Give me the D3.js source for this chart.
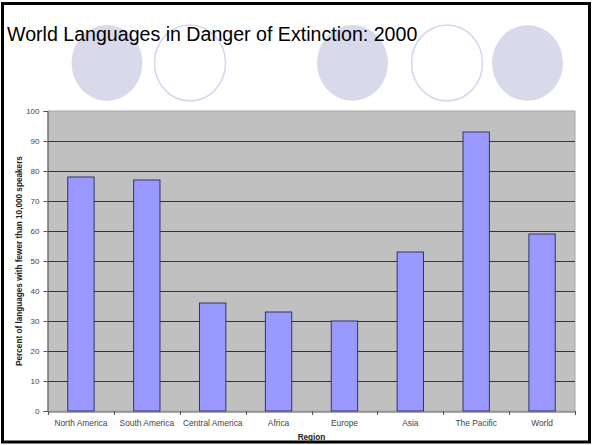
<!DOCTYPE html>
<html>
<head>
<meta charset="utf-8">
<script src="https://cdn.jsdelivr.net/npm/d3@7"></script>
<style>
  html, body { margin: 0; padding: 0; background: #fff; }
  svg { display: block; }
</style>
</head>
<body>
<script>
const title = "World Languages in Danger of Extinction: 2000";
const regions = ["North America", "South America", "Central America", "Africa", "Europe", "Asia", "The Pacific", "World"];
const percents = [78, 77, 36, 33, 30, 53, 93, 59];
const yTicks = [0, 10, 20, 30, 40, 50, 60, 70, 80, 90, 100];
const yTitle = "Percent of languages with fewer than 10,000 speakers";
const xTitle = "Region";
// decorative circles: [centre x, filled?]
const circleCx = [107, 190, 352.5, 447, 527.5];
const circleFilled = [true, false, true, false, true];

const W = 592, H = 445;
const FONT = "Liberation Sans, Arial, sans-serif";
const svg = d3.select("body").append("svg").attr("width", W).attr("height", H);

// frame
svg.append("rect").attr("x", 2.5).attr("y", 3.5).attr("width", 587).attr("height", 438.5)
  .attr("fill", "#fff").attr("stroke", "#000").attr("stroke-width", 3);

// decorative circles
svg.selectAll("ellipse.deco").data(circleCx).join("ellipse")
  .attr("class", "deco")
  .attr("cx", d => d).attr("cy", 63).attr("rx", 35.5).attr("ry", 38)
  .attr("fill", (d, i) => circleFilled[i] ? "#d9d9ec" : "#fff")
  .attr("stroke", (d, i) => circleFilled[i] ? "none" : "#d6d6ee")
  .attr("stroke-width", 1.5);

svg.append("text").attr("x", 7).attr("y", 41)
  .attr("font-family", FONT).attr("font-size", 19.6)
  .attr("fill", "#000").text(title);

const m = { left: 48, right: 575, top: 111, bottom: 411 };
const x = d3.scaleBand().domain(regions).range([m.left, m.right]).paddingInner(0).paddingOuter(0);
const y = d3.scaleLinear().domain([0, 100]).range([m.bottom, m.top]);

// plot area
svg.append("rect").attr("x", m.left).attr("y", m.top)
  .attr("width", m.right - m.left).attr("height", m.bottom - m.top)
  .attr("fill", "#c0c0c0").attr("stroke", "#a8a8a8").attr("stroke-width", 1);

// gridlines
svg.append("g").selectAll("line").data(yTicks.filter(t => t > 0 && t < 100)).join("line")
  .attr("x1", m.left).attr("x2", m.right)
  .attr("y1", d => Math.round(y(d)) + 0.5).attr("y2", d => Math.round(y(d)) + 0.5)
  .attr("stroke", "#333").attr("stroke-width", 1.2);

// bars
const bw = x.bandwidth() / 2.5;
svg.append("g").selectAll("rect").data(regions).join("rect")
  .attr("x", d => x(d) + (x.bandwidth() - bw) / 2)
  .attr("y", (d, i) => y(percents[i]))
  .attr("width", bw)
  .attr("height", (d, i) => y(0) - y(percents[i]))
  .attr("fill", "#9999ff").attr("stroke", "#33336a").attr("stroke-width", 1);

// y axis
const yAxis = d3.axisLeft(y).tickValues(yTicks).tickSize(4).tickPadding(4);
const gy = svg.append("g").attr("transform", `translate(${m.left - 0.5},0)`).call(yAxis);
gy.selectAll("path,line").attr("stroke", "#555");
gy.selectAll("text").attr("font-family", FONT)
  .attr("font-size", 8).attr("fill", "#444");

// x axis
const xAxis = d3.axisBottom(x).tickSize(0).tickPadding(9);
const gx = svg.append("g").attr("transform", `translate(0,${m.bottom + 0.5})`).call(xAxis);
gx.selectAll("path").attr("stroke", "#555");
gx.selectAll("text").attr("font-family", FONT)
  .attr("font-size", 8.4).attr("fill", "#444");
// category boundary ticks
const bounds = regions.map(r => x(r)).concat([m.right]);
svg.append("g").selectAll("line").data(bounds).join("line")
  .attr("x1", d => Math.round(d) + 0.5).attr("x2", d => Math.round(d) + 0.5)
  .attr("y1", m.bottom).attr("y2", m.bottom + 4)
  .attr("stroke", "#555");

// axis titles
svg.append("text").attr("x", (m.left + m.right) / 2).attr("y", 440)
  .attr("text-anchor", "middle").attr("font-family", FONT)
  .attr("font-size", 8.2).attr("font-weight", "bold").attr("fill", "#222").text(xTitle);

svg.append("text")
  .attr("transform", `translate(22,${(m.top + m.bottom) / 2}) rotate(-90)`)
  .attr("text-anchor", "middle").attr("font-family", FONT)
  .attr("font-size", 8.2).attr("font-weight", "bold").attr("fill", "#222").text(yTitle);
</script>
</body>
</html>
